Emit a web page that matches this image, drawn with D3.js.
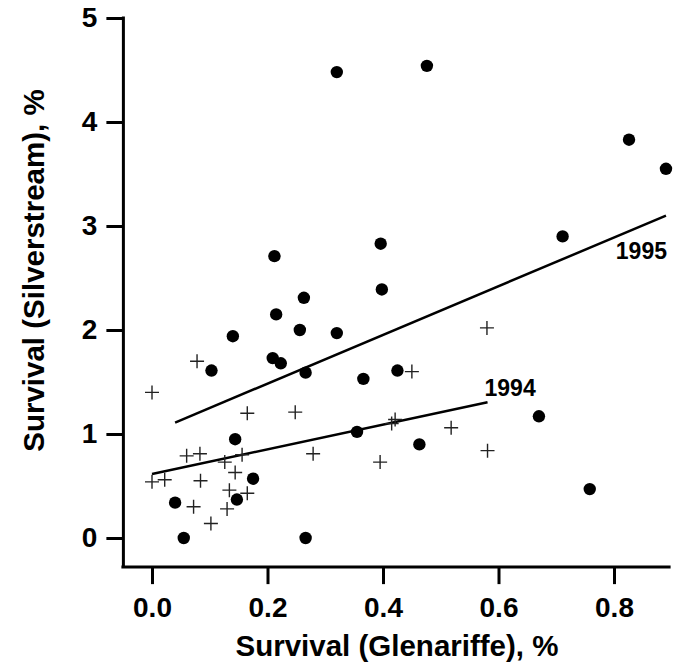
<!DOCTYPE html>
<html>
<head>
<meta charset="utf-8">
<script src="https://cdn.jsdelivr.net/npm/d3@7"></script>
<style>
  body { margin: 0; background: #fff; }
  svg text { font-family: "Liberation Sans", Arial, sans-serif; font-weight: bold; fill: #000; }
</style>
</head>
<body>
<script>
// 1995 survival pairs (Glenariffe %, Silverstream %) - filled circles
var glen1995 = [0.320, 0.476, 0.826, 0.890, 0.711, 0.396, 0.212, 0.398, 0.263, 0.215,
                0.256, 0.140, 0.320, 0.209, 0.223, 0.103, 0.266, 0.366, 0.425, 0.355,
                0.144, 0.175, 0.040, 0.147, 0.055, 0.266, 0.463, 0.670, 0.758];
var silv1995 = [4.48, 4.54, 3.83, 3.55, 2.90, 2.83, 2.71, 2.39, 2.31, 2.15,
                2.00, 1.94, 1.97, 1.73, 1.68, 1.61, 1.59, 1.53, 1.61, 1.02,
                0.95, 0.57, 0.34, 0.37, 0.00, 0.00, 0.90, 1.17, 0.47];

// 1994 survival pairs - crosses
var glen1994 = [0.078, 0.000, 0.165, 0.248, 0.415, 0.421, 0.060, 0.083, 0.126, 0.156,
                0.279, 0.395, 0.144, 0.000, 0.022, 0.084, 0.134, 0.165, 0.072, 0.130,
                0.102, 0.580, 0.450, 0.518, 0.581];
var silv1994 = [1.70, 1.40, 1.20, 1.21, 1.10, 1.14, 0.79, 0.81, 0.73, 0.80,
                0.81, 0.73, 0.63, 0.54, 0.56, 0.55, 0.46, 0.43, 0.30, 0.28,
                0.14, 2.02, 1.60, 1.06, 0.84];

// fitted regression lines (start/end)
var fitYears = ["1995", "1994"];
var fitX = [[0.040, 0.890], [0.000, 0.581]];
var fitY = [[1.11, 3.10], [0.615, 1.305]];

var xTicks = [0, 0.2, 0.4, 0.6, 0.8];
var yTicks = [0, 1, 2, 3, 4, 5];

var width = 678, height = 666;

var svg = d3.select("body").append("svg")
    .attr("width", width)
    .attr("height", height);

var x = d3.scaleLinear().domain([0, 0.8]).range([152, 614]);
var y = d3.scaleLinear().domain([0, 5]).range([538, 18]);

var axisX0 = x(-0.053), axisX1 = x(0.898);
var axisY = y(-0.28);

// axes
var xAxis = d3.axisBottom(x).tickValues(xTicks).tickFormat(d3.format(".1f"))
    .tickSize(17).tickPadding(13);
var gx = svg.append("g").attr("transform", "translate(0," + axisY + ")").call(xAxis);
gx.select(".domain").remove();
gx.selectAll("line").attr("stroke", "#000").attr("stroke-width", 3);
gx.selectAll("text").style("font-size", "28px").style("font-family", "Liberation Sans, Arial, sans-serif").style("font-weight", "bold");

var yAxis = d3.axisLeft(y).tickValues(yTicks).tickFormat(d3.format("d"))
    .tickSize(17).tickPadding(9);
var gy = svg.append("g").attr("transform", "translate(" + (axisX0 + 2) + ",0)").call(yAxis);
gy.select(".domain").remove();
gy.selectAll("line").attr("stroke", "#000").attr("stroke-width", 3);
gy.selectAll("text").style("font-size", "28px").style("font-family", "Liberation Sans, Arial, sans-serif").style("font-weight", "bold");

// axis lines
svg.append("path")
    .attr("d", "M" + (axisX0 + 2) + "," + (y(5) - 1.5) + "V" + axisY + "M" + axisX0 + "," + axisY + "H" + axisX1)
    .attr("fill", "none")
    .attr("stroke", "#000")
    .attr("stroke-width", 3);

// fit lines
fitYears.forEach(function (yr, i) {
    svg.append("line")
        .attr("x1", x(fitX[i][0])).attr("y1", y(fitY[i][0]))
        .attr("x2", x(fitX[i][1])).attr("y2", y(fitY[i][1]))
        .attr("stroke", "#000")
        .attr("stroke-width", 2.5);
});

// year labels next to the lines
svg.append("text")
    .attr("x", x(fitX[0][1]) + 1).attr("y", y(fitY[0][1]) + 43)
    .attr("text-anchor", "end")
    .style("font-size", "23px")
    .text(fitYears[0]);
svg.append("text")
    .attr("x", x(fitX[1][1]) - 3).attr("y", y(fitY[1][1]) - 6)
    .style("font-size", "23px")
    .text(fitYears[1]);

// 1994 crosses
svg.append("g").selectAll("path")
    .data(d3.range(glen1994.length))
    .enter().append("path")
    .attr("transform", function (i) { return "translate(" + x(glen1994[i]) + "," + y(silv1994[i]) + ")"; })
    .attr("d", "M-7,0H7M0,-7V7")
    .attr("stroke", "#222")
    .attr("stroke-width", 1.4)
    .attr("fill", "none");

// 1995 dots
svg.append("g").selectAll("circle")
    .data(d3.range(glen1995.length))
    .enter().append("circle")
    .attr("cx", function (i) { return x(glen1995[i]); })
    .attr("cy", function (i) { return y(silv1995[i]); })
    .attr("r", 6.2)
    .attr("fill", "#000");

// axis titles
svg.append("text")
    .attr("x", (axisX0 + axisX1) / 2 + 1)
    .attr("y", 656)
    .attr("text-anchor", "middle")
    .style("font-size", "29.5px")
    .text("Survival (Glenariffe), %");

svg.append("text")
    .attr("transform", "translate(44," + ((y(5) + axisY) / 2 - 22) + ") rotate(-90)")
    .attr("text-anchor", "middle")
    .style("font-size", "29.5px")
    .text("Survival (Silverstream), %");
</script>
</body>
</html>
